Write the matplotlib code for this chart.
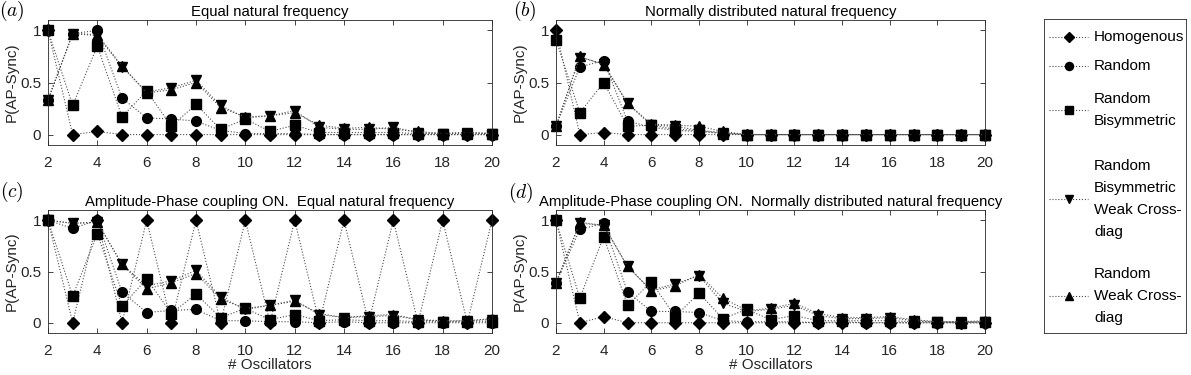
import numpy as np
import matplotlib
matplotlib.use("Agg")
import matplotlib.pyplot as plt
from matplotlib.lines import Line2D

plt.rcParams['font.family'] = ['Liberation Sans', 'DejaVu Sans']
plt.rcParams['mathtext.fontset'] = 'cm'

# number of oscillators
x = list(range(2, 21))

labels = ["Homogenous", "Random", "Random\nBisymmetric",
          "Random\nBisymmetric\nWeak Cross-\ndiag", "Random\nWeak Cross-\ndiag"]
markers = ['D', 'o', 's', 'v', '^']
msizes = [6, 7, 7, 7.5, 7.5]

# (a) equal natural frequency
homog_a = [1, 0, 0.03, 0, 0, 0, 0, 0, 0, 0, 0, 0, 0, 0, 0, 0, 0, 0, 0]
rand_a = [0.33, 0.97, 1.0, 0.35, 0.16, 0.15, 0.13, 0.04, 0.01, 0.01, 0.01, 0, 0, 0, 0, 0, 0, 0, 0]
bisym_a = [1, 0.28, 0.85, 0.17, 0.42, 0.08, 0.29, 0.05, 0.15, 0.03, 0.09, 0.02, 0.02, 0.02, 0.02, 0.01, 0.01, 0.01, 0.01]
bisymw_a = [0.33, 0.97, 0.95, 0.65, 0.41, 0.45, 0.52, 0.28, 0.16, 0.18, 0.23, 0.07, 0.05, 0.05, 0.07, 0.02, 0.01, 0.02, 0.01]
randw_a = [0.33, 0.97, 0.96, 0.66, 0.40, 0.43, 0.50, 0.26, 0.17, 0.18, 0.21, 0.09, 0.06, 0.07, 0.05, 0.03, 0.01, 0.02, 0.01]

# (b) normally distributed natural frequency
homog_b = [1, 0, 0.02, 0, 0, 0, 0, 0, 0, 0, 0, 0, 0, 0, 0, 0, 0, 0, 0]
rand_b = [0.08, 0.65, 0.71, 0.13, 0.07, 0.04, 0.03, 0.01, 0, 0, 0, 0, 0, 0, 0, 0, 0, 0, 0]
bisym_b = [0.91, 0.21, 0.50, 0.08, 0.09, 0.05, 0.04, 0.01, 0, 0, 0, 0, 0, 0, 0, 0, 0, 0, 0]
bisymw_b = [0.08, 0.74, 0.68, 0.30, 0.09, 0.08, 0.04, 0.02, 0, 0, 0, 0, 0, 0, 0, 0, 0, 0, 0]
randw_b = [0.08, 0.75, 0.67, 0.30, 0.10, 0.09, 0.08, 0.03, 0, 0, 0, 0, 0, 0, 0, 0, 0, 0, 0]

# (c) amplitude-phase coupling, equal natural frequency
homog_c = [1, 0, 1, 0, 1, 0, 1, 0, 1, 0, 1, 0, 1, 0, 1, 0, 1, 0, 1]
rand_c = [1, 0.92, 1.0, 0.30, 0.10, 0.12, 0.13, 0.02, 0.02, 0.01, 0.01, 0, 0.01, 0, 0, 0, 0, 0, 0]
bisym_c = [1, 0.26, 0.87, 0.16, 0.43, 0.09, 0.28, 0.05, 0.14, 0.03, 0.08, 0.02, 0.03, 0.02, 0.02, 0.01, 0.01, 0.01, 0.01]
bisymw_c = [1, 0.97, 0.98, 0.57, 0.36, 0.41, 0.51, 0.25, 0.13, 0.17, 0.22, 0.08, 0.05, 0.06, 0.07, 0.03, 0.01, 0.02, 0.03]
randw_c = [1, 0.97, 0.98, 0.57, 0.33, 0.39, 0.48, 0.23, 0.14, 0.17, 0.21, 0.09, 0.05, 0.07, 0.08, 0.03, 0.02, 0.02, 0.04]

# (d) amplitude-phase coupling, normally distributed natural frequency
homog_d = [1, 0, 0.06, 0, 0, 0, 0, 0, 0, 0, 0, 0, 0, 0, 0, 0, 0, 0, 0]
rand_d = [0.39, 0.91, 0.97, 0.30, 0.11, 0.11, 0.10, 0.02, 0.01, 0.01, 0.01, 0, 0.01, 0, 0, 0, 0, 0, 0]
bisym_d = [1, 0.24, 0.84, 0.17, 0.40, 0.06, 0.29, 0.04, 0.13, 0.03, 0.07, 0.02, 0.02, 0.02, 0.02, 0.01, 0.01, 0, 0.01]
bisymw_d = [0.39, 0.97, 0.95, 0.55, 0.32, 0.38, 0.46, 0.19, 0.11, 0.13, 0.17, 0.07, 0.04, 0.04, 0.05, 0.02, 0.01, 0.01, 0.01]
randw_d = [0.39, 0.98, 0.95, 0.55, 0.31, 0.36, 0.47, 0.24, 0.12, 0.14, 0.19, 0.09, 0.05, 0.05, 0.06, 0.03, 0.01, 0.01, 0.02]

panels = [
    ("(a)", "Equal natural frequency", [homog_a, rand_a, bisym_a, bisymw_a, randw_a]),
    ("(b)", "Normally distributed natural frequency", [homog_b, rand_b, bisym_b, bisymw_b, randw_b]),
    ("(c)", "Amplitude-Phase coupling ON.  Equal natural frequency", [homog_c, rand_c, bisym_c, bisymw_c, randw_c]),
    ("(d)", "Amplitude-Phase coupling ON.  Normally distributed natural frequency", [homog_d, rand_d, bisym_d, bisymw_d, randw_d]),
]

W, H = 1191, 375
fig = plt.figure(figsize=(W / 100, H / 100), dpi=100)

# axes boxes in pixels: left, top, right, bottom
boxes = [(48, 20, 492, 145), (556, 20, 985, 145), (48, 210, 492, 333), (556, 210, 985, 333)]
letter_pos = [(12, 11), (525, 11), (12, 192), (521, 193)]
axcol = '0.15'
lcol = '0.3'
fs = 11

for i, (letter, title, series) in enumerate(panels):
    l, t, r, b = boxes[i]
    ax = fig.add_axes([l / W, 1 - b / H, (r - l) / W, (b - t) / H])
    for ys, m, ms in zip(series, markers, msizes):
        ax.plot(x, ys, linestyle=':', color=lcol, linewidth=0.8, clip_on=False,
                marker=m, markersize=ms, markerfacecolor='k', markeredgecolor='k')
    ax.set_xlim(2, 20)
    ax.set_ylim(-0.1, 1.1)
    ax.set_xticks(range(2, 21, 2))
    ax.set_yticks([0, 0.5, 1])
    ax.set_yticklabels(['0', '0.5', '1'])
    ax.tick_params(direction='in', top=True, right=True, length=3.5, width=0.6,
                   labelsize=fs, colors=axcol, labelcolor='#262626')
    ax.tick_params(axis='x', pad=8)
    ax.tick_params(axis='y', pad=5)
    for s in ax.spines.values():
        s.set_color(axcol)
        s.set_linewidth(0.6)
    ax.set_ylabel("P(AP-Sync)", fontsize=fs, color='#262626', labelpad=1)
    ax.set_title(title, fontsize=10.7, color='#000000', pad=3)
    if i >= 2:
        ax.set_xlabel("# Oscillators", fontsize=fs, color='#262626', labelpad=0)
    fig.text(letter_pos[i][0] / W, 1 - letter_pos[i][1] / H, "$" + letter + "$",
             fontsize=14, ha='center', va='center')

# legend box, drawn in pixel coordinates
lax = fig.add_axes([1044 / W, 1 - 333 / H, (1186 - 1044) / W, (333 - 19) / H])
lax.set_xlim(1044, 1186)
lax.set_ylim(333, 19)
lax.set_xticks([])
lax.set_yticks([])
for s in lax.spines.values():
    s.set_color(axcol)
    s.set_linewidth(0.6)
entry_y = [37, 66, 110, 199, 296]
for lab, m, ms, yy in zip(labels, markers, msizes, entry_y):
    lax.add_line(Line2D([1049, 1088], [yy, yy], linestyle=':', color=lcol, linewidth=0.8))
    lax.add_line(Line2D([1069], [yy], marker=m, markersize=ms - 1.2, color='k'))
    lax.text(1094, yy, lab, fontsize=fs, va='center', ha='left', linespacing=1.7)

fig.savefig("out.png", dpi=100)
